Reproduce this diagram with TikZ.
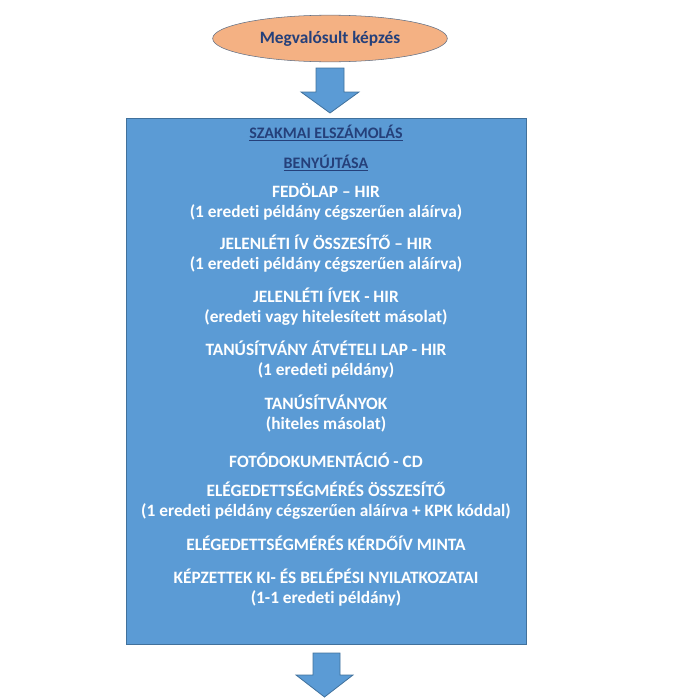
\documentclass[tikz,border=0pt]{standalone}
\usepackage{fontspec}
\setmainfont{Carlito}[Ligatures=NoCommon]
\usetikzlibrary{positioning,shapes.geometric}
\definecolor{boxblue}{HTML}{5B9BD5}
\definecolor{boxedge}{HTML}{41719C}
\definecolor{darkblue}{HTML}{25407A}
\definecolor{peach}{HTML}{F4B183}
\definecolor{peachedge}{HTML}{5E6E85}

\begin{document}
\begin{tikzpicture}[
  x=0.75pt, y=-0.75pt,
  start/.style={ellipse, draw=peachedge, fill=peach, minimum width=176pt, minimum height=35pt,
    font=\fontsize{13}{15}\selectfont\bfseries, text=darkblue},
  panel/.style={draw=boxedge, fill=boxblue},
  item/.style={align=center, text=white, font=\fontsize{13}{15}\selectfont\bfseries, inner sep=0pt},
  title/.style={item, text=darkblue, font=\fontsize{12}{15}\selectfont\bfseries},
  blockarrow/.style={draw=boxedge, fill=boxblue, line width=0.6pt}
]
\useasboundingbox (0,0) rectangle (681,700);

\node[start] (kepzes) at (330,38.5) {Megvalósult képzés};

% upper arrow
\filldraw[blockarrow] (316,68) -- (344,68) -- (344,92) -- (359,92) -- (330,113)
  -- (301,92) -- (316,92) -- cycle;

\draw[panel] (126,118) rectangle (526,644);

\node[title] (szakmai) at (326,133) {\underline{SZAKMAI ELSZÁMOLÁS}};
\node[title] (benyujt) at (326,163) {\underline{BENYÚJTÁSA}};
\node[item] (fedolap) at (326,202) {FEDÖLAP – HIR\\(1 eredeti példány cégszerűen aláírva)};
\node[item] (jelossz) at (326,254) {JELENLÉTI ÍV ÖSSZESÍTŐ – HIR\\(1 eredeti példány cégszerűen aláírva)};
\node[item] (jelivek) at (326,307) {JELENLÉTI ÍVEK - HIR\\(eredeti vagy hitelesített másolat)};
\node[item] (atvet) at (326,360) {TANÚSÍTVÁNY ÁTVÉTELI LAP - HIR\\(1 eredeti példány)};
\node[item] (tanus) at (326,414) {TANÚSÍTVÁNYOK\\(hiteles másolat)};
\node[item] (foto) at (326,460) {FOTÓDOKUMENTÁCIÓ - CD};
\node[item] (elegossz) at (326,501) {ELÉGEDETTSÉGMÉRÉS ÖSSZESÍTŐ\\(1 eredeti példány cégszerűen aláírva + KPK kóddal)};
\node[item] (kerdoiv) at (326,543) {ELÉGEDETTSÉGMÉRÉS KÉRDŐÍV MINTA};
\node[item] (nyilatk) at (326,588) {KÉPZETTEK KI- ÉS BELÉPÉSI NYILATKOZATAI\\(1-1 eredeti példány)};

% lower arrow
\filldraw[blockarrow] (313,653) -- (340,653) -- (340,675) -- (353,675) -- (324.5,697)
  -- (296,675) -- (313,675) -- cycle;
\end{tikzpicture}
\end{document}
